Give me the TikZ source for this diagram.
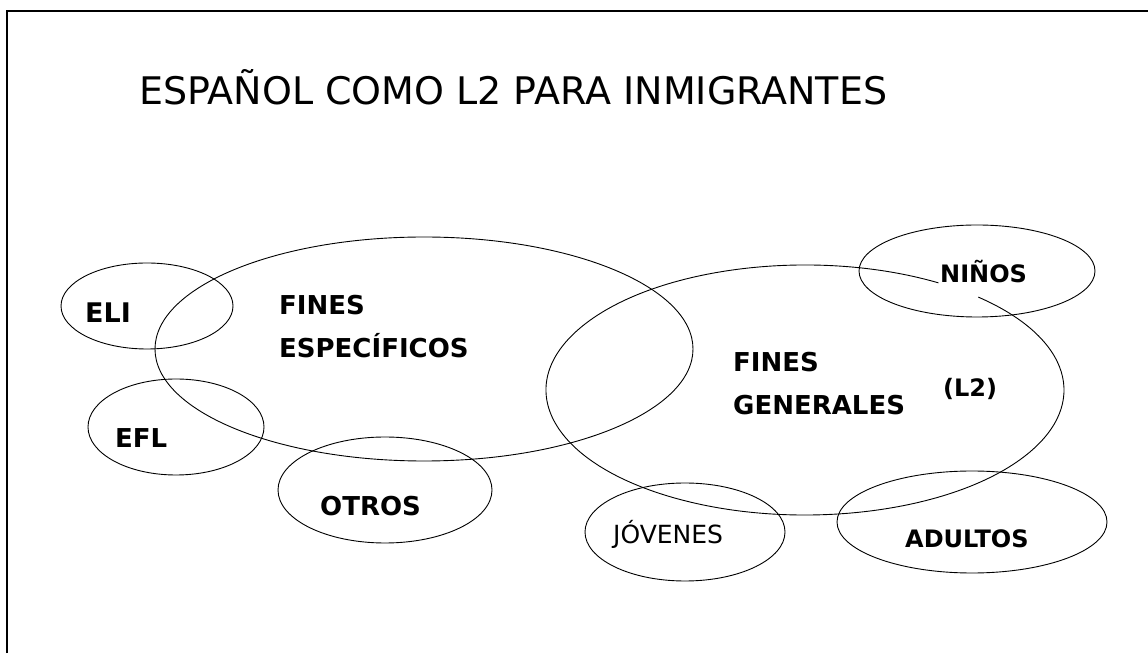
\documentclass[tikz,border=0pt]{standalone}
\usepackage{fontspec}
\setmainfont{DejaVu Sans}
\usepackage{tikz}

\begin{document}
\begin{tikzpicture}[x=1pt,y=1pt,
		lbl/.style={anchor=base west,inner sep=0pt,font=\fontsize{26}{30}\selectfont\bfseries},
		lblsmall/.style={lbl,font=\fontsize{24}{28}\selectfont\bfseries},
		oval/.style={line width=0.9pt}]
	\useasboundingbox (0,0) rectangle (1148,653);
	% marco
	\draw[line width=2pt] (7,0) -- (7,642) -- (1148,642);
	% titulo
	\node[anchor=base west,inner sep=0pt,font=\fontsize{38}{44}\selectfont] (titulo) at (139,548) {ESPAÑOL COMO L2 PARA INMIGRANTES};
	% fines especificos
	\draw[oval] (424,304) ellipse (269 and 112);
	\node[lbl] (fines1) at (279,338) {FINES};
	\node[lbl] (espec) at (279,295) {ESPECÍFICOS};
	\draw[oval] (147,347) ellipse (86 and 43);
	\node[lbl,font=\fontsize{27}{30}\selectfont\bfseries] (eli) at (85,330) {ELI};
	\draw[oval] (176,226) ellipse (88 and 48);
	\node[lbl] (efl) at (115,205) {EFL};
	\draw[oval] (385,163) ellipse (107 and 53);
	\node[lbl] (otros) at (320,137) {OTROS};
	% fines generales (curva abierta)
	\draw[oval] (805,263) ++(59:259 and 125) arc[start angle=59,end angle=408,x radius=259,y radius=125];
	\node[lbl] (fines2) at (733,281) {FINES};
	\node[lbl] (gen) at (733,238) {GENERALES};
	\node[lblsmall] (ldos) at (943,256) {(L2)};
	\draw[oval] (977,382) ellipse (118 and 46);
	\node[lblsmall] (ninos) at (940,370) {NIÑOS};
	\draw[oval] (685,121) ellipse (100 and 49);
	\node[anchor=base west,inner sep=0pt,font=\fontsize{25}{28}\selectfont] (jovenes) at (613,109) {JÓVENES};
	\draw[oval] (972,131) ellipse (135 and 51);
	\node[lblsmall] (adultos) at (905,105) {ADULTOS};
\end{tikzpicture}
\end{document}
